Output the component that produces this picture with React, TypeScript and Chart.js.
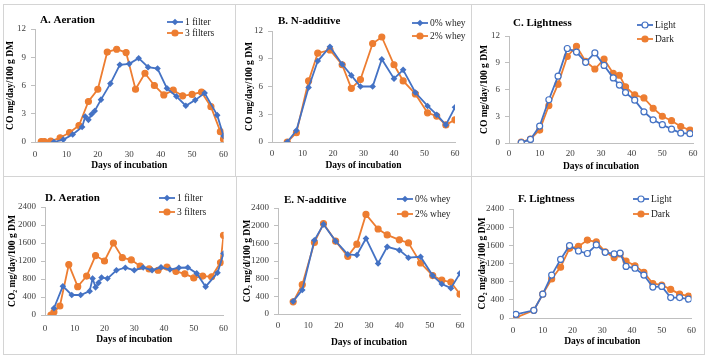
import React, { useEffect, useRef } from 'react';
import { Chart, registerables } from 'chart.js';

Chart.register(...registerables);

// ---------- DATA ----------
// A. Aeration (CO)
const aDays1 = [6, 9, 12, 15, 16, 17, 18, 19, 21, 24, 27, 30, 33, 36, 39, 42, 45, 48, 51, 54, 58, 60];
const aFilter1 = [0, 0.25, 0.8, 1.6, 2.7, 2.35, 2.95, 3.3, 4.5, 6.2, 8.2, 8.3, 8.9, 7.95, 7.8, 5.7, 4.85, 3.85, 4.45, 5.2, 2.85, 0.65];
const aDays3 = [2, 3, 5, 8, 11, 14, 17, 20, 23, 26, 29, 32, 35, 38, 41, 44, 47, 50, 53, 56, 59, 60];
const aFilter3 = [0.05, 0.05, 0.1, 0.45, 1.0, 1.75, 4.3, 5.6, 9.55, 9.85, 9.5, 5.6, 7.3, 6.0, 5.0, 5.5, 4.9, 5.05, 5.3, 3.75, 1.1, 0.3];

// B. N-additive (CO)
const bDays = [5, 8, 12, 15, 19, 23, 26, 29, 33, 36, 40, 43, 47, 51, 54, 57, 60];
const bWhey0 = [0, 1.25, 5.9, 8.75, 10.3, 8.4, 7.2, 6.0, 6.0, 8.95, 6.85, 7.8, 5.35, 3.9, 2.95, 1.85, 3.75];
const bWhey2 = [0, 1.0, 6.6, 9.6, 9.95, 8.35, 5.8, 6.75, 10.65, 11.35, 8.35, 6.6, 5.2, 3.15, 2.8, 1.85, 2.4];

// C. Lightness (CO)
const cDays = [4, 7, 10, 13, 16, 19, 22, 25, 28, 31, 34, 36, 38, 41, 44, 47, 50, 53, 56, 59];
const cLight = [0.05, 0.4, 1.9, 4.85, 7.5, 10.6, 10.2, 9.05, 10.1, 8.7, 7.3, 6.5, 5.65, 4.8, 3.5, 2.6, 2.05, 1.55, 1.1, 1.05];
const cDark = [0.1, 0.45, 1.45, 4.2, 6.6, 9.7, 10.85, 9.15, 8.3, 9.4, 7.8, 7.6, 6.3, 5.4, 5.05, 3.9, 3.0, 2.5, 1.85, 1.45];

// D. Aeration (CO2)
const dDays1 = [3, 6, 9, 12, 15, 16, 17, 18, 19, 21, 24, 27, 30, 33, 36, 39, 42, 45, 48, 51, 54, 58, 60];
const dFilter1 = [150, 640, 445, 445, 530, 810, 615, 715, 835, 810, 995, 1050, 995, 1055, 995, 1060, 1010, 1050, 1055, 925, 630, 940, 1365];
const dDays3 = [2, 3, 5, 8, 11, 14, 17, 20, 23, 26, 29, 32, 35, 38, 41, 44, 47, 50, 53, 56, 59, 60];
const dFilter3 = [0, 65, 200, 1120, 630, 865, 1320, 1200, 1600, 1275, 1225, 1085, 1025, 995, 1065, 970, 915, 825, 865, 850, 1165, 1770];

// E. N-additive (CO2)
const eDays = [5, 8, 12, 15, 19, 23, 26, 29, 33, 36, 40, 43, 47, 51, 54, 57, 60];
const eWhey0 = [285, 545, 1670, 2030, 1650, 1350, 1335, 1710, 1145, 1520, 1445, 1275, 1295, 870, 680, 585, 920];
const eWhey2 = [275, 665, 1620, 2045, 1650, 1305, 1580, 2255, 1925, 1790, 1680, 1610, 1155, 870, 765, 720, 450];

// F. Lightness (CO2)
const fDays = [1, 7, 10, 13, 16, 19, 22, 25, 28, 31, 34, 36, 38, 41, 44, 47, 50, 53, 56, 59];
const fLight = [80, 170, 525, 945, 1290, 1595, 1475, 1420, 1610, 1445, 1410, 1430, 1135, 1095, 945, 680, 695, 450, 450, 415];
const fDark = [10, 170, 525, 860, 1120, 1535, 1575, 1715, 1675, 1455, 1330, 1410, 1255, 1150, 1005, 760, 725, 630, 525, 480];

const xTicksMax = 60;
const xTitle = 'Days of incubation';
const coTitle = 'CO mg/day/100 g DM';
const co2Title = 'CO\u2082 mg/day/100 g DM';
const co2dTitle = 'CO\u2082 mg/d/100 g DM';

// ---------- STYLE ----------
const BLUE = '#4472C4';
const ORANGE = '#ED7D31';
const AXIS = '#BFBFBF';
const TICK = '#404040';
const SERIF = '"Liberation Serif", "Times New Roman", serif';

type Series = { label: string; days: number[]; vals: number[]; color: string; style: 'diamond' | 'circle' | 'open' };
type Panel = {
  rect: [number, number, number, number];
  padTop: number; padRight: number; yWidth: number; xHeight: number;
  yTitlePad: number; xTickPad: number; xTitlePad: number;
  yMax: number; yStep: number; yTitle: string;
  title: string; tx: number; ty: number; lx: number; ly: number; lgap: number;
  series: Series[];
};

const mk = (p: Panel) => p;

const panels: Panel[] = [
  mk({ rect: [4, 5, 231, 171], padTop: 24, padRight: 10, yWidth: 31, xHeight: 34, yTitlePad: 1, xTickPad: 7, xTitlePad: 5,
    yMax: 12, yStep: 3, yTitle: coTitle, title: 'A. Aeration', tx: 36, ty: 15, lx: 163, ly: 17, lgap: 11,
    series: [
      { label: '1 filter', days: aDays1, vals: aFilter1, color: BLUE, style: 'diamond' },
      { label: '3 filters', days: aDays3, vals: aFilter3, color: ORANGE, style: 'circle' },
    ] }),
  mk({ rect: [236, 5, 235, 171], padTop: 26, padRight: 16, yWidth: 36, xHeight: 34, yTitlePad: 8, xTickPad: 6, xTitlePad: 5,
    yMax: 12, yStep: 3, yTitle: coTitle, title: 'B. N-additive', tx: 42, ty: 16, lx: 176, ly: 18, lgap: 13,
    series: [
      { label: '0% whey', days: bDays, vals: bWhey0, color: BLUE, style: 'diamond' },
      { label: '2% whey', days: bDays, vals: bWhey2, color: ORANGE, style: 'circle' },
    ] }),
  mk({ rect: [472, 5, 231, 171], padTop: 31, padRight: 10, yWidth: 37, xHeight: 33, yTitlePad: 7, xTickPad: 5, xTitlePad: 4,
    yMax: 12, yStep: 3, yTitle: coTitle, title: 'C. Lightness', tx: 41, ty: 18, lx: 165, ly: 20, lgap: 14,
    series: [
      { label: 'Light', days: cDays, vals: cLight, color: BLUE, style: 'open' },
      { label: 'Dark', days: cDays, vals: cDark, color: ORANGE, style: 'circle' },
    ] }),
  mk({ rect: [4, 177, 232, 176], padTop: 30, padRight: 11, yWidth: 41, xHeight: 38, yTitlePad: 3, xTickPad: 8, xTitlePad: 8,
    yMax: 2400, yStep: 400, yTitle: co2Title, title: 'D. Aeration', tx: 41, ty: 21, lx: 155, ly: 21, lgap: 14,
    series: [
      { label: '1 filter', days: dDays1, vals: dFilter1, color: BLUE, style: 'diamond' },
      { label: '3 filters', days: dDays3, vals: dFilter3, color: ORANGE, style: 'circle' },
    ] }),
  mk({ rect: [237, 177, 234, 176], padTop: 31, padRight: 11, yWidth: 41, xHeight: 39, yTitlePad: 5, xTickPad: 6, xTitlePad: 5,
    yMax: 2400, yStep: 400, yTitle: co2dTitle, title: 'E. N-additive', tx: 47, ty: 23, lx: 160, ly: 22, lgap: 15,
    series: [
      { label: '0% whey', days: eDays, vals: eWhey0, color: BLUE, style: 'diamond' },
      { label: '2% whey', days: eDays, vals: eWhey2, color: ORANGE, style: 'circle' },
    ] }),
  mk({ rect: [472, 177, 231, 176], padTop: 32, padRight: 10, yWidth: 41, xHeight: 35, yTitlePad: 5, xTickPad: 7, xTitlePad: 6,
    yMax: 2400, yStep: 400, yTitle: co2Title, title: 'F. Lightness', tx: 46, ty: 22, lx: 161, ly: 22, lgap: 15,
    series: [
      { label: 'Light', days: fDays, vals: fLight, color: BLUE, style: 'open' },
      { label: 'Dark', days: fDays, vals: fDark, color: ORANGE, style: 'circle' },
    ] }),
];

const DIAMOND_R = 3.3;
const CIRCLE_R = 3.0;

function drawMarker(ctx: CanvasRenderingContext2D, style: string, color: string, x: number, y: number) {
  ctx.beginPath();
  if (style === 'diamond') {
    const r = DIAMOND_R;
    ctx.moveTo(x, y - r); ctx.lineTo(x + r, y); ctx.lineTo(x, y + r); ctx.lineTo(x - r, y); ctx.closePath();
    ctx.fillStyle = color; ctx.fill();
  } else {
    ctx.arc(x, y, CIRCLE_R, 0, Math.PI * 2);
    ctx.fillStyle = style === 'open' ? '#fff' : color; ctx.fill();
    ctx.strokeStyle = color; ctx.lineWidth = 1.2; ctx.stroke();
  }
}

const decor = {
  id: 'decor',
  afterDraw(chart: any, _a: any, opts: any) {
    const ctx: CanvasRenderingContext2D = chart.ctx;
    ctx.save();
    ctx.textBaseline = 'middle';
    ctx.textAlign = 'left';
    ctx.fillStyle = '#000';
    ctx.font = `bold 11px ${SERIF}`;
    ctx.fillText(opts.title, opts.tx, opts.ty);
    ctx.font = `9.5px ${SERIF}`;
    opts.series.forEach((s: Series, i: number) => {
      const y = opts.ly + i * opts.lgap;
      const x0 = opts.lx, x1 = opts.lx + 16;
      ctx.strokeStyle = s.color; ctx.lineWidth = 1.8;
      ctx.beginPath(); ctx.moveTo(x0, y); ctx.lineTo(x1, y); ctx.stroke();
      drawMarker(ctx, s.style, s.color, (x0 + x1) / 2, y);
      ctx.fillStyle = '#222';
      ctx.fillText(s.label, x1 + 2, y);
    });
    ctx.restore();
  },
};

function PanelChart({ p }: { p: Panel }) {
  const ref = useRef<HTMLCanvasElement>(null);
  useEffect(() => {
    if (!ref.current) return;
    const chart = new Chart(ref.current, {
      type: 'line',
      data: {
        datasets: p.series.map((s) => ({
          label: s.label,
          data: s.days.map((d, i) => ({ x: d, y: s.vals[i] })),
          borderColor: s.color,
          backgroundColor: s.color,
          borderWidth: 1.8,
          pointStyle: s.style === 'diamond' ? 'rectRot' : 'circle',
          pointRadius: s.style === 'diamond' ? DIAMOND_R : CIRCLE_R,
          pointBorderWidth: s.style === 'diamond' ? 0 : 1.2,
          pointBackgroundColor: s.style === 'open' ? '#fff' : s.color,
          pointBorderColor: s.color,
          tension: 0,
        })),
      },
      options: {
        animation: false,
        responsive: false,
        events: [],
        layout: { padding: { left: 0, top: p.padTop, right: p.padRight, bottom: 0 } },
        plugins: {
          legend: { display: false },
          tooltip: { enabled: false },
          decor: { title: p.title, tx: p.tx, ty: p.ty, lx: p.lx, ly: p.ly, lgap: p.lgap, series: p.series },
        } as any,
        scales: {
          x: {
            type: 'linear', min: 0, max: xTicksMax,
            ticks: { stepSize: 10, padding: p.xTickPad, color: TICK, font: { family: SERIF, size: 9 }, callback: (v: any) => String(v) },
            grid: { display: true, drawOnChartArea: false, drawTicks: false, color: AXIS },
            border: { display: true, color: AXIS, width: 1 },
            title: { display: true, text: xTitle, color: '#000', font: { family: SERIF, size: 9.5, weight: 'bold' }, padding: { top: 0, bottom: p.xTitlePad } },
            afterFit: (s: any) => { s.height = p.xHeight; },
          },
          y: {
            type: 'linear', min: 0, max: p.yMax,
            ticks: { stepSize: p.yStep, padding: 5, color: TICK, font: { family: SERIF, size: 9 }, callback: (v: any) => String(v) },
            grid: { display: true, drawOnChartArea: false, drawTicks: true, tickLength: 4, color: AXIS },
            border: { display: true, color: AXIS, width: 1 },
            title: { display: true, text: p.yTitle, color: '#000', font: { family: SERIF, size: 9.5, weight: 'bold' }, padding: { top: p.yTitlePad, bottom: 0 } },
            afterFit: (s: any) => { s.width = p.yWidth; },
          },
        } as any,
      },
      plugins: [decor as any],
    });
    return () => chart.destroy();
  }, [p]);
  const [l, t, w, h] = p.rect;
  return (
    <canvas ref={ref} width={w} height={h}
      style={{ position: 'absolute', left: l, top: t, width: w, height: h, display: 'block' }} />
  );
}

const LINE = '#D4D4D4';

export default function App() {
  return (
    <div style={{ position: 'absolute', left: 0, top: 0, width: 709, height: 355, background: '#fff', overflow: 'hidden' }}>
      <div style={{ position: 'absolute', left: 3, top: 4, width: 700, height: 349, border: `1px solid ${LINE}` }} />
      <div style={{ position: 'absolute', left: 3, top: 176, width: 702, height: 1, background: LINE }} />
      <div style={{ position: 'absolute', left: 235, top: 4, width: 1, height: 172, background: LINE }} />
      <div style={{ position: 'absolute', left: 236, top: 177, width: 1, height: 177, background: LINE }} />
      <div style={{ position: 'absolute', left: 471, top: 4, width: 1, height: 350, background: LINE }} />
      {panels.map((p, i) => <PanelChart key={i} p={p} />)}
    </div>
  );
}
